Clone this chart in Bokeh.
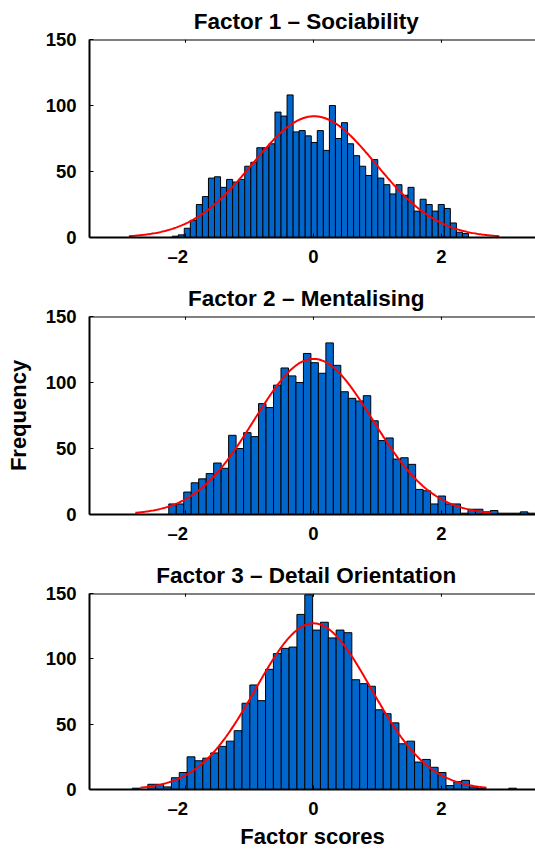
import numpy as np
from bokeh.plotting import figure
from bokeh.models import Range1d, FixedTicker, Span
from bokeh.layouts import column
from bokeh.embed import file_html
from bokeh.resources import INLINE

# ---- data -------------------------------------------------------------
titles = ["Factor 1 – Sociability", "Factor 2 – Mentalising", "Factor 3 – Detail Orientation"]

# Factor 1: histogram (first bin edge, bin width, counts) and normal fit
f1_start = -2.208
f1_width = 0.0945
f1_counts = [1, 2, 7, 13, 25, 31, 45, 46, 38, 44, 42, 44, 54, 57, 68, 68, 71, 95, 92, 108,
             80, 81, 77, 72, 81, 66, 100, 75, 87, 71, 62, 54, 47, 59, 45, 40, 33, 40, 32, 38,
             20, 29, 25, 20, 25, 22, 11, 4, 3]
f1_mean, f1_sd = 0.01, 0.965

# Factor 2
f2_start = -2.261
f2_width = 0.1169
f2_counts = [8, 8, 17, 24, 27, 31, 39, 35, 60, 50, 62, 59, 84, 81, 98, 111, 105, 100, 122, 115,
             107, 130, 113, 93, 88, 86, 90, 71, 56, 58, 42, 43, 38, 19, 18, 8, 14, 8, 8, 1,
             4, 4, 2, 3, 1, 1, 1, 2, 1]
f2_mean, f2_sd = 0.0, 0.928

# Factor 3
f3_start = -2.833
f3_width = 0.1226
f3_counts = [1, 0, 4, 4, 2, 9, 13, 25, 22, 24, 28, 33, 37, 45, 66, 80, 68, 92, 104, 108,
             109, 134, 149, 122, 128, 116, 122, 120, 84, 81, 79, 61, 58, 51, 35, 37, 21, 23, 17, 13,
             3, 6, 7, 2, 1, 0, 0, 0, 1]
f3_mean, f3_sd = 0.0, 0.902

x_ticks = [-2, 0, 2]
# the negative label sits a little left of its tick
x_tick_text = {-2: "–2\u00a0\u00a0\u00a0", 0: "0", 2: "2"}
y_ticks = [0, 50, 100, 150]
y_max = 150

# ---- styling ------------------------------------------------------------
FONT = "Liberation Sans"
BAR_FILL = "#0066cc"
CURVE = "#ff0000"
TITLE_PAD = "\u00a0\u00a0"   # nudges the centred titles slightly left


def style_axis(ax, ticks):
    ax.ticker = FixedTicker(ticks=ticks)
    ax.axis_line_width = 2
    ax.axis_line_color = "black"
    ax.major_tick_in = 4
    ax.major_tick_out = 0
    ax.minor_tick_in = 0
    ax.minor_tick_out = 0
    ax.major_tick_line_width = 1
    ax.major_label_text_font = FONT
    ax.major_label_text_font_style = "bold"
    ax.major_label_text_font_size = "18.5px"
    ax.major_label_text_color = "black"
    ax.axis_label_text_font = FONT
    ax.axis_label_text_font_style = "bold"
    ax.axis_label_text_font_size = "22px"
    ax.axis_label_text_color = "black"


def panel(title, start, width, counts, mean, sd, height, bottom, ylabel=None, xlabel=None):
    p = figure(width=535, height=height, output_backend="svg", toolbar_location=None,
               x_range=Range1d(-3.5, 3.47), y_range=Range1d(0, y_max),
               min_border_left=89, min_border_right=0, min_border_top=39,
               min_border_bottom=bottom, background_fill_color="white",
               border_fill_color="white")
    p.title.text = title + TITLE_PAD
    p.title.align = "center"
    p.title.text_font = FONT
    p.title.text_font_style = "bold"
    p.title.text_font_size = "22.5px"
    p.title.text_color = "black"
    p.title.standoff = 11
    p.outline_line_color = None
    p.grid.visible = False

    counts = np.asarray(counts, dtype=float)
    left = start + width * np.arange(len(counts))
    p.quad(left=left, right=left + width, bottom=0, top=counts,
           fill_color=BAR_FILL, line_color="black", line_width=1)

    # fitted normal density, scaled to the histogram (mean ± 3 sd)
    xs = np.linspace(mean - 3 * sd, mean + 3 * sd, 300)
    ys = counts.sum() * width * np.exp(-0.5 * ((xs - mean) / sd) ** 2) / (sd * np.sqrt(2 * np.pi))
    p.line(xs, ys, line_color=CURVE, line_width=2)

    xax = p.xaxis[0]
    yax = p.yaxis[0]
    style_axis(xax, x_ticks)
    xax.major_label_overrides = x_tick_text
    xax.major_label_standoff = 8
    style_axis(yax, y_ticks)
    yax.major_label_standoff = 13

    # top edge of the box with small inward ticks
    p.add_layout(Span(location=y_max, dimension="width", line_color="black", line_width=2))
    p.segment(x0=x_ticks, y0=y_max, x1=x_ticks, y1=y_max - 2.5, line_color="black", line_width=1)

    if ylabel:
        yax.axis_label = ylabel
        yax.axis_label_standoff = 12
    if xlabel:
        xax.axis_label = xlabel
        xax.axis_label_standoff = 2
    return p


p1 = panel(titles[0], f1_start, f1_width, f1_counts, f1_mean, f1_sd, 277, 40)
p2 = panel(titles[1], f2_start, f2_width, f2_counts, f2_mean, f2_sd, 277, 40, ylabel="Frequency")
p3 = panel(titles[2], f3_start, f3_width, f3_counts, f3_mean, f3_sd, 297, 60, xlabel="Factor scores")

layout = column(p1, p2, p3, spacing=0)
open("out.html", "w").write(file_html(layout, INLINE))
